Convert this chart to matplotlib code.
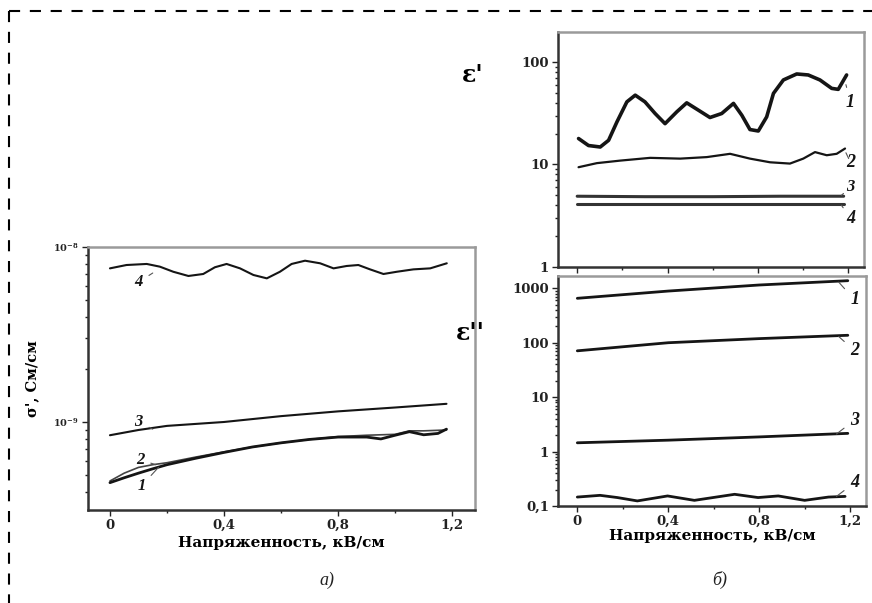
import matplotlib
matplotlib.use("Agg")
import matplotlib.pyplot as plt
from matplotlib.lines import Line2D
from matplotlib.ticker import LogLocator, NullFormatter, FixedLocator

plt.rcParams['font.family'] = ['DejaVu Serif']
plt.rcParams['font.weight'] = 'bold'
plt.rcParams['mathtext.fontset'] = 'custom'
plt.rcParams['mathtext.rm'] = 'DejaVu Serif:bold'
plt.rcParams['mathtext.it'] = 'DejaVu Serif:italic:bold'
plt.rcParams['mathtext.bf'] = 'DejaVu Serif:bold'
plt.rcParams['lines.scale_dashes'] = False
plt.rcParams['lines.solid_joinstyle'] = 'round'
plt.rcParams['lines.solid_capstyle'] = 'round'

# ---------------- data: panel a) sigma' ----------------
sig_x1 = [0.00, 0.05, 0.10, 0.15, 0.20, 0.30, 0.40, 0.50, 0.60, 0.70, 0.80, 0.90, 0.95, 1.00, 1.05, 1.10, 1.15, 1.18]
sig_y1 = [4.5e-10, 4.8e-10, 5.1e-10, 5.4e-10, 5.7e-10, 6.2e-10, 6.7e-10, 7.2e-10, 7.6e-10, 7.95e-10,
          8.2e-10, 8.2e-10, 8.0e-10, 8.4e-10, 8.8e-10, 8.45e-10, 8.6e-10, 9.1e-10]
sig_x2 = [0.00, 0.05, 0.10, 0.15, 0.20, 0.30, 0.40, 0.50, 0.60, 0.70, 0.80, 0.90, 1.00, 1.05, 1.10, 1.18]
sig_y2 = [4.6e-10, 5.1e-10, 5.5e-10, 5.7e-10, 5.85e-10, 6.3e-10, 6.75e-10, 7.2e-10, 7.6e-10, 7.95e-10,
          8.25e-10, 8.4e-10, 8.5e-10, 8.9e-10, 8.9e-10, 9.0e-10]
sig_x3 = [0.00, 0.10, 0.20, 0.40, 0.60, 0.80, 1.00, 1.18]
sig_y3 = [8.4e-10, 9.0e-10, 9.5e-10, 1.0e-9, 1.08e-9, 1.15e-9, 1.21e-9, 1.27e-9]
sig_x4 = [0.000, 0.058, 0.129, 0.175, 0.222, 0.275, 0.327, 0.368, 0.409, 0.456, 0.503, 0.550,
          0.596, 0.637, 0.684, 0.737, 0.784, 0.830, 0.871, 0.912, 0.959, 1.006, 1.064, 1.123, 1.181]
sig_y4 = [7.55e-9, 7.89e-9, 8.0e-9, 7.72e-9, 7.22e-9, 6.83e-9, 7.01e-9, 7.66e-9, 8.0e-9, 7.55e-9,
          6.92e-9, 6.62e-9, 7.22e-9, 8.0e-9, 8.35e-9, 8.07e-9, 7.55e-9, 7.79e-9, 7.89e-9, 7.45e-9,
          7.01e-9, 7.22e-9, 7.45e-9, 7.55e-9, 8.07e-9]

# ---------------- data: panel b) eps' ----------------
eps1_x1 = [0.006, 0.050, 0.102, 0.139, 0.176, 0.220, 0.257, 0.300, 0.345, 0.389, 0.441, 0.485,
           0.537, 0.588, 0.640, 0.692, 0.729, 0.765, 0.802, 0.839, 0.869, 0.913, 0.972, 1.023,
           1.075, 1.127, 1.156, 1.193]
eps1_y1 = [17.9, 15.3, 14.8, 17.2, 26.0, 40.8, 47.4, 40.8, 31.4, 25.0, 32.6, 39.9,
           33.8, 28.7, 31.4, 39.4, 30.2, 21.9, 21.2, 29.1, 49.3, 66.7, 76.3, 74.6,
           66.7, 55.2, 54.0, 74.6]
eps1_x2 = [0.006, 0.087, 0.190, 0.323, 0.456, 0.574, 0.677, 0.765, 0.854, 0.942, 1.001, 1.053,
           1.105, 1.149, 1.186]
eps1_y2 = [9.4, 10.3, 10.9, 11.6, 11.4, 11.8, 12.7, 11.4, 10.5, 10.2, 11.4, 13.2,
           12.3, 12.7, 14.3]
eps1_x3 = [0.0, 0.3, 0.6, 0.9, 1.18]
eps1_y3 = [4.9, 4.85, 4.85, 4.9, 4.9]
eps1_x4 = [0.0, 0.3, 0.6, 0.9, 1.18]
eps1_y4 = [4.1, 4.1, 4.1, 4.1, 4.1]

# ---------------- data: panel b) eps'' ----------------
eps2_x1 = [0.0, 0.4, 0.8, 1.19]
eps2_y1 = [655, 890, 1150, 1380]
eps2_x2 = [0.0, 0.4, 0.8, 1.19]
eps2_y2 = [71, 100, 119, 137]
eps2_x3 = [0.0, 0.4, 0.8, 1.19]
eps2_y3 = [1.45, 1.62, 1.86, 2.16]
eps2_x4 = [0.0, 0.10, 0.176, 0.264, 0.397, 0.515, 0.692, 0.795, 0.884, 1.0, 1.105, 1.178]
eps2_y4 = [0.146, 0.157, 0.143, 0.124, 0.153, 0.127, 0.164, 0.143, 0.153, 0.127, 0.146, 0.150]

x_ticks = [0, 0.4, 0.8, 1.2]
x_ticklabels = ['0', '0,4', '0,8', '1,2']
x_minor = [0.2, 0.6, 1.0]
xlabel = 'Напряженность, кВ/см'

fig = plt.figure(figsize=(8.72, 6.03), dpi=100)
W, H = 872, 603

def rect(x0, y0, x1, y1):
    return [x0 / W, 1 - y1 / H, (x1 - x0) / W, (y1 - y0) / H]

def style(ax):
    for s in ['top', 'right']:
        ax.spines[s].set_color('#9a9a9a')
        ax.spines[s].set_linewidth(1.8)
    for s in ['left', 'bottom']:
        ax.spines[s].set_color('#333333')
        ax.spines[s].set_linewidth(1.8)
    ax.tick_params(which='both', direction='out', colors='#222222', labelsize=9.5,
                   width=1.0, pad=2.5)
    ax.tick_params(which='major', length=4)
    ax.tick_params(which='minor', length=2.5)
    ax.set_xticks(x_ticks)
    ax.set_xticklabels(x_ticklabels)
    ax.xaxis.set_minor_locator(FixedLocator(x_minor))
    ax.xaxis.set_minor_formatter(NullFormatter())

K = '#151515'
LC = '#555555'

def lab(ax, text, xy, xytext, fs=12):
    ax.annotate(text, xy=xy, xytext=xytext, fontsize=fs, style='italic', fontweight='bold',
                family='Liberation Serif', ha='center', va='center', color=K,
                arrowprops=dict(arrowstyle='-', color=LC, lw=0.8, shrinkA=3, shrinkB=0))

# ---- panel a ----
axa = fig.add_axes(rect(88, 247, 475, 510))
axa.set_yscale('log')
axa.set_xlim(-0.077, 1.28)
axa.set_ylim(10 ** -9.503, 1e-8)
axa.plot(sig_x3, sig_y3, color=K, lw=1.5)
axa.plot(sig_x4, sig_y4, color=K, lw=1.5)
axa.plot(sig_x2, sig_y2, color='#444444', lw=1.2)
axa.plot(sig_x1, sig_y1, color=K, lw=2.0)
style(axa)
axa.set_yticks([1e-9, 1e-8])
axa.set_yticklabels([r'10$^{-9}$', r'10$^{-8}$'], fontsize=7)
axa.yaxis.set_minor_locator(LogLocator(base=10, subs=range(2, 10)))
axa.yaxis.set_minor_formatter(NullFormatter())
axa.set_xlabel(xlabel, fontsize=11, fontweight='bold', labelpad=3)
axa.set_ylabel("σ', См/см", fontsize=10.5, fontweight='bold', labelpad=10)
lab(axa, '4', (0.15, 7.1e-9), (0.10, 6.3e-9))
lab(axa, '3', (0.15, 9.1e-10), (0.10, 1.0e-9))
lab(axa, '2', (0.16, 5.7e-10), (0.105, 6.1e-10))
lab(axa, '1', (0.17, 5.5e-10), (0.11, 4.3e-10))

# ---- panel b top (eps') ----
axt = fig.add_axes(rect(558, 31.5, 864, 267))
axt.set_yscale('log')
axt.set_xlim(-0.085, 1.27)
axt.set_ylim(1, 198)
axt.plot(eps1_x1, eps1_y1, color=K, lw=2.6)
axt.plot(eps1_x2, eps1_y2, color=K, lw=1.6)
axt.plot(eps1_x3, eps1_y3, color='#333333', lw=2.2)
axt.plot(eps1_x4, eps1_y4, color='#333333', lw=2.2)
style(axt)
axt.set_xticklabels([])
axt.set_yticks([1, 10, 100])
axt.set_yticklabels(['1', '10', '100'])
axt.yaxis.set_minor_locator(LogLocator(base=10, subs=range(2, 10)))
axt.yaxis.set_minor_formatter(NullFormatter())
fig.text(473 / W, 1 - 75 / H, "ε'", fontsize=17, fontweight='bold', ha='center', va='center')
lab(axt, '1', (1.19, 60), (1.21, 40), fs=13)
lab(axt, '2', (1.19, 13), (1.21, 10.5), fs=13)
lab(axt, '3', (1.17, 5.0), (1.21, 6.0), fs=12)
lab(axt, '4', (1.17, 4.0), (1.21, 3.0), fs=13)

# ---- panel b bottom (eps'') ----
axb = fig.add_axes(rect(558, 276, 866, 506))
axb.set_yscale('log')
axb.set_xlim(-0.085, 1.27)
axb.set_ylim(0.1, 1683)
axb.plot(eps2_x1, eps2_y1, color=K, lw=2.0)
axb.plot(eps2_x2, eps2_y2, color=K, lw=2.0)
axb.plot(eps2_x3, eps2_y3, color=K, lw=2.0)
axb.plot(eps2_x4, eps2_y4, color=K, lw=2.0)
style(axb)
axb.set_yticks([0.1, 1, 10, 100, 1000])
axb.set_yticklabels(['0,1', '1', '10', '100', '1000'])
axb.yaxis.set_minor_locator(LogLocator(base=10, subs=range(2, 10)))
axb.yaxis.set_minor_formatter(NullFormatter())
axb.set_xlabel(xlabel, fontsize=11, fontweight='bold', labelpad=1)
fig.text(470 / W, 1 - 333 / H, "ε''", fontsize=17, fontweight='bold', ha='center', va='center')
lab(axb, '1', (1.15, 1300), (1.22, 610), fs=13)
lab(axb, '2', (1.15, 130), (1.22, 71), fs=13)
lab(axb, '3', (1.14, 2.1), (1.22, 3.8), fs=13)
lab(axb, '4', (1.14, 0.15), (1.22, 0.27), fs=13)

# captions
fig.text(327 / W, 1 - 580 / H, 'а)', fontsize=13, style='italic', fontweight='normal',
         family='Liberation Serif', ha='center', va='center', color='#222222')
fig.text(720 / W, 1 - 580 / H, 'б)', fontsize=13, style='italic', fontweight='normal',
         family='Liberation Serif', ha='center', va='center', color='#222222')

# dashed frame (top and left)
yy = 1 - 11 / H
xx = 9 / W
for xs, ys in [([xx, 1.0], [yy, yy]), ([xx, xx], [yy, 0.0])]:
    ln = Line2D(xs, ys, transform=fig.transFigure, color='black', lw=1.5,
                linestyle=(0, (8, 7)))
    fig.add_artist(ln)

fig.savefig('out.png', dpi=100)
